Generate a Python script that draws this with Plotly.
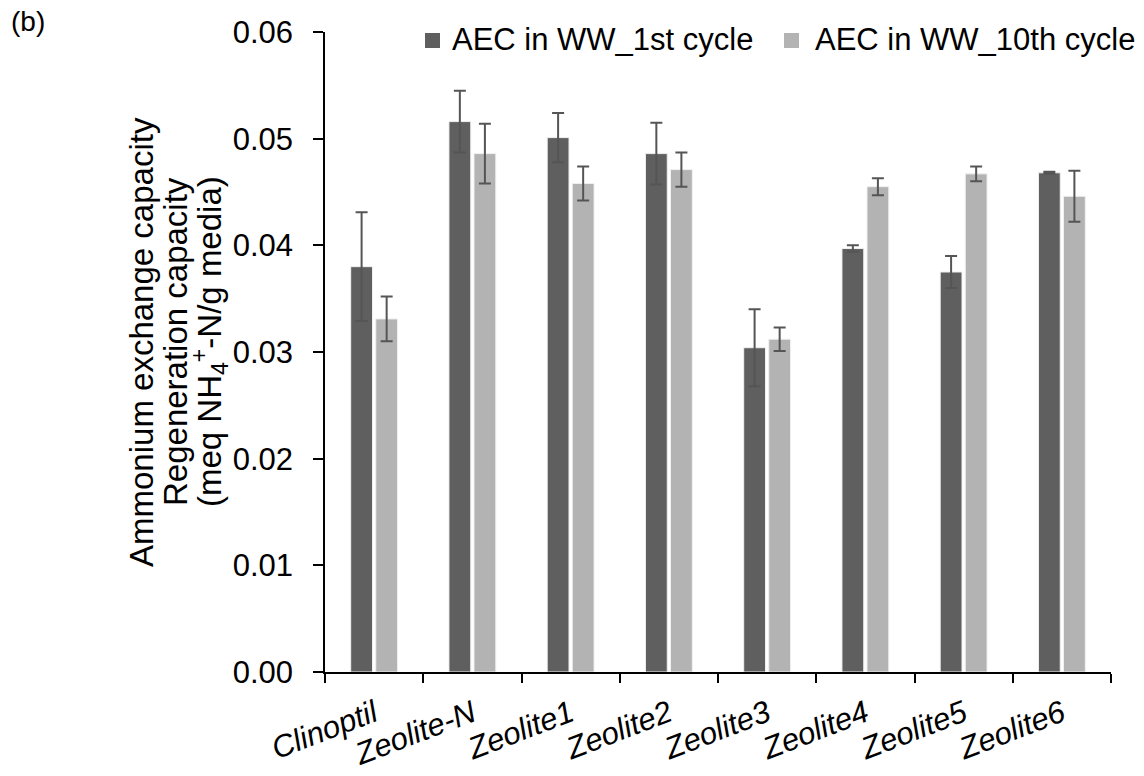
import plotly.graph_objects as go

categories = ["Clinoptil", "Zeolite-N", "Zeolite1", "Zeolite2", "Zeolite3", "Zeolite4", "Zeolite5", "Zeolite6"]
aec_1st = [0.0380, 0.0516, 0.0501, 0.0486, 0.0304, 0.0397, 0.0375, 0.0468]
err_1st = [0.0051, 0.0029, 0.0023, 0.0029, 0.0036, 0.0003, 0.0015, 0.0001]
aec_10th = [0.0331, 0.0486, 0.0458, 0.0471, 0.0312, 0.0455, 0.0467, 0.0446]
err_10th = [0.0021, 0.0028, 0.0016, 0.0016, 0.0011, 0.0008, 0.0007, 0.0024]
y_ticks = [0.00, 0.01, 0.02, 0.03, 0.04, 0.05, 0.06]
series_names = ["AEC in WW_1st cycle", "AEC in WW_10th cycle"]
y_title_lines = [
    "Ammonium exchange capacity",
    "Regeneration capacity",
    "(meq NH<sub>4</sub><sup>+</sup>-N/g media)",
]

FONT = "Liberation Sans, Arial, sans-serif"
DARK = "#5f5f5f"
LIGHT = "#b3b3b3"
ERR = "#555555"

# plot area geometry (pixels)
L, R, T, B = 325, 33, 32, 104
W, H = 1144, 776
PW = W - L - R
PH = H - T - B


def px_x(p):
    return (p - L) / PW


def px_y(p):
    return (H - B - p) / PH


fig = go.Figure()
fig.add_trace(go.Bar(
    x=categories, y=aec_1st, name=series_names[0], showlegend=False,
    marker=dict(color=DARK, line=dict(color="#f0f0f0", width=1)),
    error_y=dict(type="data", array=err_1st, visible=True, color=ERR, thickness=2, width=6),
))
fig.add_trace(go.Bar(
    x=categories, y=aec_10th, name=series_names[1], showlegend=False,
    marker=dict(color=LIGHT, line=dict(color="#f0f0f0", width=1)),
    error_y=dict(type="data", array=err_10th, visible=True, color=ERR, thickness=2, width=6),
))

annotations = [dict(
    text="(b)", xref="paper", yref="paper", x=px_x(9), y=px_y(21),
    xanchor="left", yanchor="middle", showarrow=False, font=dict(size=28),
)]
for line, xp in zip(y_title_lines, [141, 175, 209]):
    annotations.append(dict(
        text=line, xref="paper", yref="paper", x=px_x(xp), y=px_y(342),
        xanchor="center", yanchor="middle", textangle=-90, showarrow=False,
        font=dict(size=33),
    ))

# manual legend (squares + labels)
shapes = []
legend_items = [(series_names[0], DARK, 425, 450, "left"), (series_names[1], LIGHT, 784, 1137, "right")]
for name, col, sq_x, tx, anchor in legend_items:
    shapes.append(dict(
        type="rect", xref="paper", yref="paper",
        x0=px_x(sq_x), x1=px_x(sq_x + 15), y0=px_y(48), y1=px_y(33),
        fillcolor=col, line=dict(width=0),
    ))
    annotations.append(dict(
        text=name, xref="paper", yref="paper", x=px_x(tx), y=px_y(40),
        xanchor=anchor, yanchor="middle", showarrow=False, font=dict(size=31),
    ))

fig.update_layout(
    width=W, height=H,
    margin=dict(l=L, r=R, t=T, b=B, autoexpand=False),
    paper_bgcolor="white", plot_bgcolor="white",
    barmode="group", bargap=0.49, bargroupgap=0.13,
    font=dict(family=FONT, size=30, color="black"),
    showlegend=False,
    annotations=annotations,
    shapes=shapes,
)

fig.update_yaxes(
    range=[0, 0.06], tickvals=y_ticks, tickformat=".2f",
    showgrid=False, zeroline=False,
    showline=True, linecolor="black", linewidth=1.5,
    ticks="outside", ticklen=10, tickwidth=1.5, tickcolor="black",
    tickfont=dict(size=31), ticklabelstandoff=14,
)
fig.update_xaxes(
    showgrid=False, showline=True, linecolor="black", linewidth=1.5,
    ticks="outside", tickson="boundaries", ticklen=9, tickwidth=1.5, tickcolor="black",
    tickangle=-21, tickfont=dict(size=31, style="italic"), ticklabelstandoff=10,
)

fig.write_html("out.html")
